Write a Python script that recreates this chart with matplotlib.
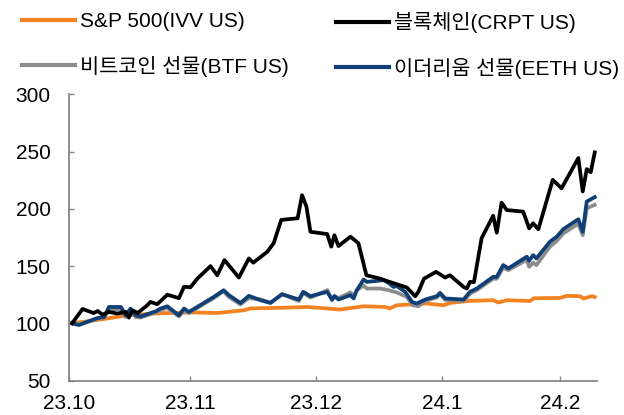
import matplotlib
matplotlib.use("Agg")
import matplotlib.pyplot as plt

plt.rcParams["font.family"] = ["Liberation Sans", "Noto Sans CJK KR", "DejaVu Sans"]

# x positions are days counted from 2023-10-01
sp500_days = [1, 3.2, 9.4, 14.8, 23.1, 31.5, 37.3, 43.9, 45.6, 52.3, 59.8, 64.8, 67.9,
              73.9, 79.3, 80.4, 82.2, 89.7, 93.9, 95.5, 100.5, 106.3, 107.6, 109.7,
              115.5, 116.5, 123.0, 124.7, 128.0, 128.9, 131.0, 131.7]
sp500_vals = [100, 101, 104, 107, 108.8, 109.5, 109, 111.4, 113, 113.5, 114.3, 113, 112,
              114.9, 114.3, 113, 115.8, 117.3, 115.8, 117.8, 119.6, 120.2, 118.2, 120.2,
              119.5, 121.9, 122.2, 124, 123.7, 121.7, 123.7, 123]

crpt_days = [1, 3.6, 6.4, 7.4, 8.6, 10.2, 12.3, 14.4, 15.2, 16.1, 17.4, 19.8, 20.6, 22.3,
             24.8, 27.7, 29.0, 30.6, 32.3, 35.6, 37.3, 39.1, 42.7, 45.2, 46.3, 49.8, 51.4,
             53.3, 57.4, 58.5, 59.6, 60.6, 64.8, 65.8, 66.6, 67.6, 70.6, 72.6, 74.6, 78.1,
             79.7, 84.7, 86.8, 87.6, 89.0, 92.0, 94.3, 95.5, 98.9, 99.7, 100.5, 101.5,
             103.4, 106.3, 107.2, 108.4, 109.7, 113.8, 115.3, 116.3, 117.6, 121.2, 123.4,
             127.6, 128.7, 129.7, 130.7, 131.7]
crpt_vals = [100, 112.5, 109, 110.8, 107.5, 110, 108.5, 110, 105, 111.4, 109, 115.8, 118.7,
             116.7, 125, 122, 132, 131.5, 139, 150, 142, 155.3, 140, 156.7, 153, 162.5, 170,
             190.4, 191.8, 212, 202, 180, 178, 167, 177, 167.5, 175.7, 170, 142, 139,
             137, 131.3, 123.7, 127.5, 139, 145, 140, 142, 131.8, 130.4, 136.2, 136,
             174.3, 194, 179.2, 205.5, 199, 197.6, 183, 187.4, 182.2, 225.4, 218,
             244.5, 215.2, 234.8, 232, 249.4]

btf_days = [1, 2.7, 7.3, 9.0, 10.2, 13.2, 14.4, 15.6, 16.9, 18.1, 21.9, 23.1, 24.8, 27.7,
            29.0, 30.2, 36.4, 38.9, 40.2, 43.1, 45.2, 48.1, 50.6, 53.5, 57.7, 58.8, 60.6,
            64.8, 66.0, 66.6, 67.6, 70.6, 71.4, 72.2, 73.9, 74.7, 78.1, 80.1, 82.2, 84.7,
            86.2, 87.6, 89.3, 92.2, 93.0, 94.3, 98.9, 100.5, 102.2, 106.3, 107.2, 108.8,
            110.1, 114.7, 115.3, 116.3, 117.1, 120.5, 122.2, 123.8, 127.6, 128.7, 129.7,
            131.7]
btf_vals = [100, 99, 104, 105, 112.5, 112, 105.5, 111, 105.5, 105, 109.5, 111.5, 113.5, 106,
            111.5, 109, 122, 128, 123, 116.5, 122, 121, 118, 125.5, 119.5, 126.5, 122.5,
            129, 120, 124, 122, 127, 124, 129, 133, 130.4, 130.4, 129, 127, 123,
            115.8, 114.9, 119.5, 122.5, 125.5, 120.5, 119.5, 126, 129, 139, 139, 148.5,
            146.5, 155.5, 149.4, 153, 150.9, 167, 172, 178.5, 187, 177, 200.6,
            203.5]

eeth_days = [1, 2.7, 7.3, 9.0, 10.2, 13.2, 14.4, 15.6, 16.9, 18.1, 21.9, 23.1, 24.8, 27.7,
             29.0, 30.2, 36.4, 38.9, 40.2, 43.1, 45.2, 48.1, 50.6, 53.5, 57.7, 58.8, 60.6,
             64.8, 66.0, 66.6, 67.6, 70.6, 71.4, 72.2, 73.9, 74.7, 78.9, 80.1, 81.4, 82.2,
             84.3, 86.0, 87.2, 89.3, 92.2, 93.0, 94.3, 98.9, 100.5, 102.2, 106.3, 107.2,
             108.8, 110.1, 114.7, 115.3, 116.3, 117.1, 120.5, 122.2, 123.8, 127.6, 128.7,
             129.7, 131.7]
eeth_vals = [100, 98.5, 104.6, 105.5, 114.3, 114.3, 107, 112.9, 107, 106, 110.5, 112.9, 114.9,
             107, 112.9, 109.9, 123, 128.9, 124.6, 117.8, 124, 120.2, 117.8, 125.4, 120.8,
             127.5, 123.7, 127.5, 120.8, 123.7, 120.8, 124.6, 121.7, 128.9, 138.3, 136.2,
             137.7, 135.4, 131.8, 132.5, 127.5, 118.7, 117.3, 120.8, 123.7, 126.6, 121.7,
             120.8, 127.5, 130.4, 140.6, 140.6, 150.9, 148, 158.2, 154.7, 159.6, 156.7,
             171.3, 175.7, 182.2, 191, 180, 206.4, 210.3]

month_ticks = [0.3, 30.6, 62.1, 93.6, 123.0]
month_labels = ["23.10", "23.11", "23.12", "24.1", "24.2"]
y_ticks = [50, 100, 150, 200, 250, 300]

fig = plt.figure(figsize=(6.24, 4.15), dpi=100)
ax = fig.add_axes([0.1111, 0.0831, 0.8452, 0.6892])

lw = 2.7
l_sp, = ax.plot(sp500_days, sp500_vals, color="#F58220", lw=lw, label="S&P 500(IVV US)")
l_btf, = ax.plot(btf_days, btf_vals, color="#8C8C8C", lw=lw, label="비트코인 선물(BTF US)")
l_eeth, = ax.plot(eeth_days, eeth_vals, color="#103F76", lw=lw, label="이더리움 선물(EETH US)")
l_crpt, = ax.plot(crpt_days, crpt_vals, color="#000000", lw=lw, label="블록체인(CRPT US)")

ax.set_xlim(0.3, 132.2)
ax.set_ylim(50, 300)
ax.set_xticks(month_ticks)
ax.set_xticklabels(month_labels)
ax.set_yticks(y_ticks)

for side in ["top", "right"]:
    ax.spines[side].set_visible(False)
for side in ["left", "bottom"]:
    ax.spines[side].set_color("#888888")
    ax.spines[side].set_linewidth(1.3)

ax.tick_params(axis="both", direction="in", length=3.5, width=1, color="#888888",
               labelsize=15, labelcolor="#000000")
ax.tick_params(axis="y", pad=13.5)
ax.tick_params(axis="x", pad=10)

leg_kw = dict(frameon=False, fontsize=15, handlelength=2.55, handletextpad=0.25,
              borderpad=0, borderaxespad=0, labelspacing=1.18, loc="upper left")
leg1 = fig.legend(handles=[l_sp, l_btf], bbox_to_anchor=(0.0348, 0.971), **leg_kw)
leg2 = fig.legend(handles=[l_crpt, l_eeth], bbox_to_anchor=(0.538, 0.971), **leg_kw)
for leg in (leg1, leg2):
    for line in leg.get_lines():
        line.set_linewidth(3.0)

fig.savefig("out.png", dpi=100)
